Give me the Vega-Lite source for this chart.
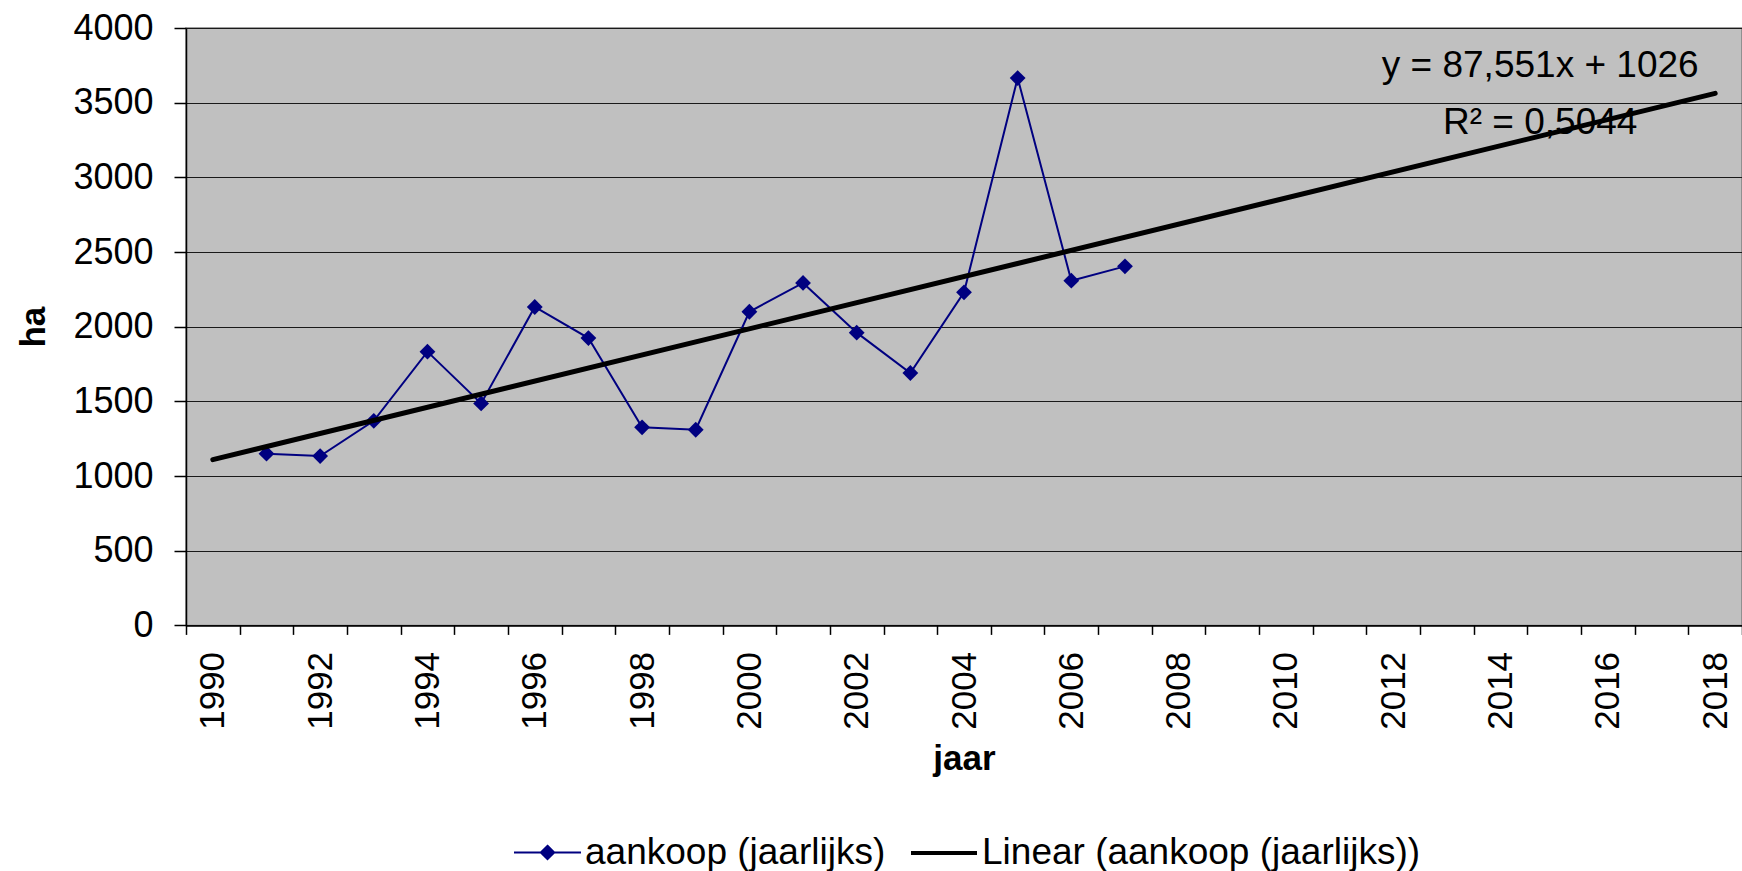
{
  "$schema": "https://vega.github.io/schema/vega-lite/v6.json",
  "width": 1556,
  "height": 597.4,
  "autosize": {"type": "none"},
  "padding": {"left": 186, "top": 28, "right": 0, "bottom": 245.6},
  "background": "white",
  "config": {
    "font": "Liberation Sans",
    "view": {"fill": "#C0C0C0", "stroke": "#808080", "strokeWidth": 1.5},
    "axis": {
      "labelFont": "Liberation Sans",
      "titleFont": "Liberation Sans",
      "labelColor": "black",
      "titleColor": "black",
      "domainColor": "black",
      "tickColor": "black",
      "labelFontSize": 35,
      "titleFontSize": 35,
      "titleFontWeight": "bold"
    },
    "legend": {"labelFont": "Liberation Sans", "labelColor": "black"}
  },
  "datasets": {
    "aankoop": [
      {"jaar": 1991, "ha": 1150},
      {"jaar": 1992, "ha": 1134},
      {"jaar": 1993, "ha": 1370},
      {"jaar": 1994, "ha": 1833},
      {"jaar": 1995, "ha": 1486},
      {"jaar": 1996, "ha": 2132},
      {"jaar": 1997, "ha": 1924},
      {"jaar": 1998, "ha": 1326},
      {"jaar": 1999, "ha": 1310},
      {"jaar": 2000, "ha": 2100},
      {"jaar": 2001, "ha": 2293},
      {"jaar": 2002, "ha": 1960},
      {"jaar": 2003, "ha": 1690},
      {"jaar": 2004, "ha": 2230},
      {"jaar": 2005, "ha": 3665},
      {"jaar": 2006, "ha": 2308},
      {"jaar": 2007, "ha": 2404}
    ],
    "trend": [
      {"jaar": 1990, "ha": 1110},
      {"jaar": 2018, "ha": 3562}
    ],
    "annotatie": [
      {"jaar": 2015, "ha": 3748, "regel": "y = 87,551x + 1026"},
      {"jaar": 2015, "ha": 3364, "regel": "R² = 0,5044"}
    ]
  },
  "encoding": {
    "x": {
      "field": "jaar",
      "type": "ordinal",
      "scale": {
        "domain": [1990, 1991, 1992, 1993, 1994, 1995, 1996, 1997, 1998, 1999, 2000, 2001, 2002, 2003, 2004, 2005, 2006, 2007, 2008, 2009, 2010, 2011, 2012, 2013, 2014, 2015, 2016, 2017, 2018],
        "paddingInner": 0,
        "paddingOuter": 0
      },
      "axis": {
        "title": "jaar",
        "labelAngle": -90,
        "labelExpr": "datum.value % 2 === 0 ? datum.label : ''",
        "labelOverlap": false,
        "tickBand": "extent",
        "tickSize": 9,
        "tickWidth": 1.5,
        "labelPadding": 17,
        "domainWidth": 1.5,
        "titlePadding": 12,
        "grid": false
      }
    },
    "y": {
      "field": "ha",
      "type": "quantitative",
      "scale": {"domain": [0, 4000], "nice": false},
      "axis": {
        "title": "ha",
        "format": "d",
        "values": [0, 500, 1000, 1500, 2000, 2500, 3000, 3500, 4000],
        "grid": true,
        "gridColor": "#1a1a1a",
        "gridWidth": 1.2,
        "tickSize": 12,
        "tickWidth": 1.5,
        "domainWidth": 1.5,
        "labelFontSize": 36,
        "labelPadding": 21,
        "titlePadding": 21
      }
    }
  },
  "layer": [
    {
      "data": {"name": "aankoop"},
      "mark": {"type": "line", "strokeWidth": 2},
      "encoding": {
        "color": {
          "datum": "aankoop (jaarlijks)",
          "scale": {"range": ["#000080"]},
          "legend": {
            "title": null,
            "orient": "none",
            "direction": "horizontal",
            "legendX": 327,
            "legendY": 790,
            "padding": 0,
            "labelFontSize": 37,
            "labelLimit": 0,
            "labelOffset": 3,
            "symbolSize": 4489,
            "symbolType": "M-1,0H1M0,-0.2L0.2,0L0,0.2L-0.2,0ZM0,-0.13L0.13,0L0,0.13L-0.13,0ZM0,-0.07L0.07,0L0,0.07L-0.07,0Z",
            "symbolFillColor": "#000080",
            "symbolStrokeWidth": 2,
            "symbolOpacity": 1
          }
        }
      }
    },
    {
      "data": {"name": "aankoop"},
      "mark": {"type": "point", "shape": "diamond", "filled": true, "size": 250, "opacity": 1, "color": "#000080"}
    },
    {
      "data": {"name": "trend"},
      "mark": {"type": "line", "strokeWidth": 5, "strokeCap": "round"},
      "encoding": {
        "stroke": {
          "datum": "Linear (aankoop (jaarlijks))",
          "scale": {"range": ["#000000"]},
          "legend": {
            "title": null,
            "orient": "none",
            "direction": "horizontal",
            "legendX": 723,
            "legendY": 790,
            "padding": 0,
            "labelFontSize": 37,
            "labelLimit": 0,
            "labelOffset": 3,
            "symbolSize": 4356,
            "symbolType": "stroke",
            "symbolStrokeWidth": 4,
            "symbolOpacity": 1
          }
        }
      }
    },
    {
      "data": {"name": "annotatie"},
      "mark": {"type": "text", "fontSize": 37, "align": "center", "baseline": "middle", "color": "black", "font": "Liberation Sans", "dx": -14},
      "encoding": {
        "text": {"field": "regel", "type": "nominal"}
      }
    }
  ]
}
